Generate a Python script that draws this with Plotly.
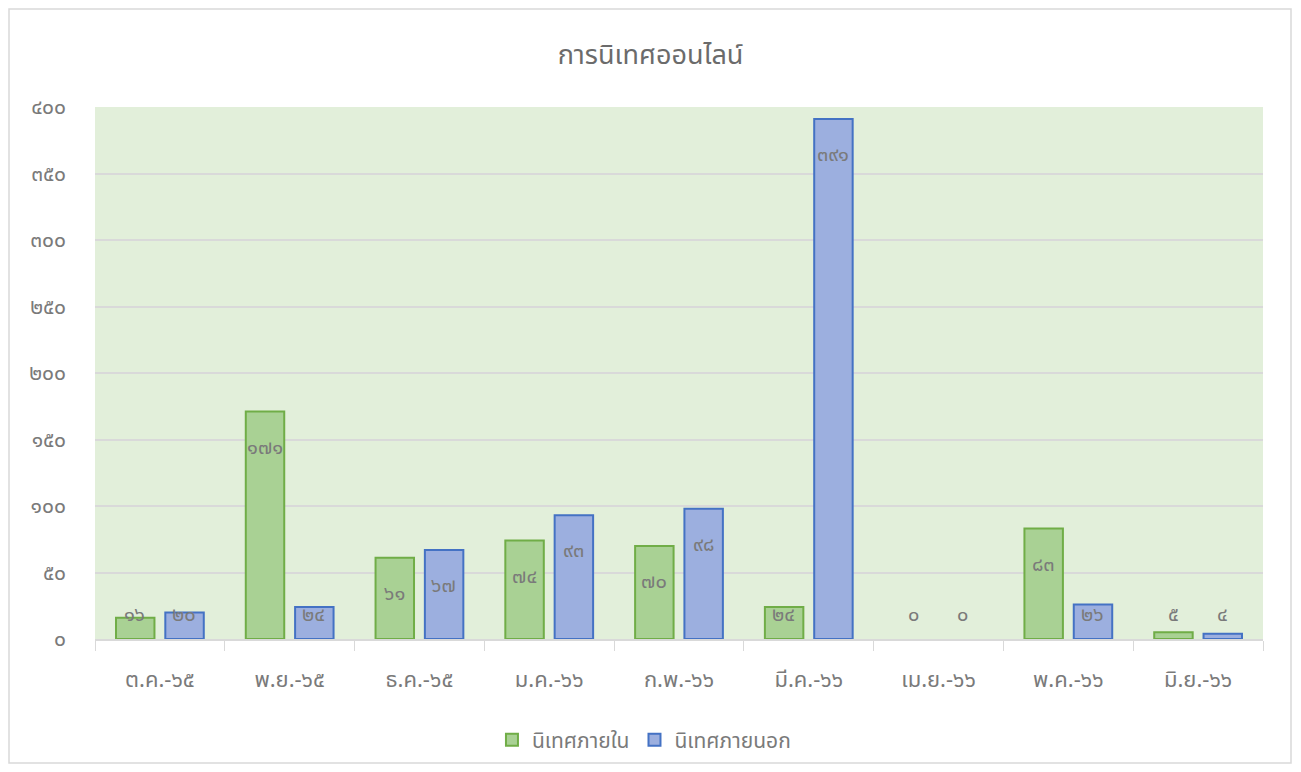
import plotly.graph_objects as go

categories = ["ต.ค.-๖๕", "พ.ย.-๖๕", "ธ.ค.-๖๕", "ม.ค.-๖๖", "ก.พ.-๖๖",
              "มี.ค.-๖๖", "เม.ย.-๖๖", "พ.ค.-๖๖", "มิ.ย.-๖๖"]
internal = [16, 171, 61, 74, 70, 24, 0, 83, 5]
external = [20, 24, 67, 93, 98, 391, 0, 26, 4]
y_tickvals = [0, 50, 100, 150, 200, 250, 300, 350, 400]
y_ticktext = ["๐", "๕๐", "๑๐๐", "๑๕๐", "๒๐๐", "๒๕๐", "๓๐๐", "๓๕๐", "๔๐๐"]
series_names = ["นิเทศภายใน", "นิเทศภายนอก"]
title_text = "การนิเทศออนไลน์"

THAI = str.maketrans("0123456789", "๐๑๒๓๔๕๖๗๘๙")
FONT = "Noto Sans Thai, Leelawadee UI, Tahoma, Noto Sans, sans-serif"
GRAY = "#7a7a7a"

fig = go.Figure()
fig.add_trace(go.Bar(x=categories, y=internal, name=series_names[0],
                     marker=dict(color="#a9d194",
                                 line=dict(color="#70ad47", width=[0 if v == 0 else 2 for v in internal]))))
fig.add_trace(go.Bar(x=categories, y=external, name=series_names[1],
                     marker=dict(color="#9cafdf",
                                 line=dict(color="#4472c4", width=[0 if v == 0 else 2 for v in external]))))

for vals, xs in ((internal, -25), (external, 24)):
    for c, v in zip(categories, vals):
        fig.add_annotation(x=c, y=max(v, 45), yshift=-36, xshift=xs,
                           text=str(v).translate(THAI), showarrow=False,
                           font=dict(family=FONT, size=20, color=GRAY),
                           xanchor="center", yanchor="middle")

W, H = 1285, 756
L, R, T, B = 87, 30, 99, 125
pw, ph = W - L - R, H - T - B
fig.add_shape(type="rect", xref="paper", yref="paper",
              x0=(1 - L) / pw, x1=(W - 2 - L) / pw,
              y0=-(B - 1) / ph, y1=1 + (T - 1) / ph,
              line=dict(color="#d9d9d9", width=1.5), fillcolor="rgba(0,0,0,0)", layer="below")

fig.update_layout(
    width=W, height=H,
    margin=dict(l=L, r=R, t=T, b=B, autoexpand=False),
    paper_bgcolor="white", plot_bgcolor="#e2efda",
    title=dict(text=title_text, x=0.5, xanchor="center", y=1 - 47 / H, yanchor="middle",
               font=dict(family=FONT, size=27, color="#6b6b6b")),
    font=dict(family=FONT, color=GRAY),
    barmode="group", bargap=0.24, bargroupgap=0.22,
    showlegend=True,
    legend=dict(orientation="h", x=0.47, xanchor="center",
                yref="container", y=1 - 732 / H, yanchor="middle",
                font=dict(family=FONT, size=21, color=GRAY), itemwidth=30),
    xaxis=dict(showline=True, linecolor="#d9d9d9", linewidth=1.5, automargin=False,
               ticks="outside", tickson="boundaries", ticklen=10, tickcolor="#d9d9d9",
               tickfont=dict(family=FONT, size=22, color=GRAY),
               ticklabelstandoff=20, showgrid=False),
    yaxis=dict(range=[0, 400], tickvals=y_tickvals, ticktext=y_ticktext, automargin=False,
               showgrid=True, gridcolor="#d9d9d9", gridwidth=1.5, zeroline=False,
               showline=False, tickfont=dict(family=FONT, size=21, color=GRAY),
               ticklabelstandoff=28),
)

fig.write_html("out.html")
